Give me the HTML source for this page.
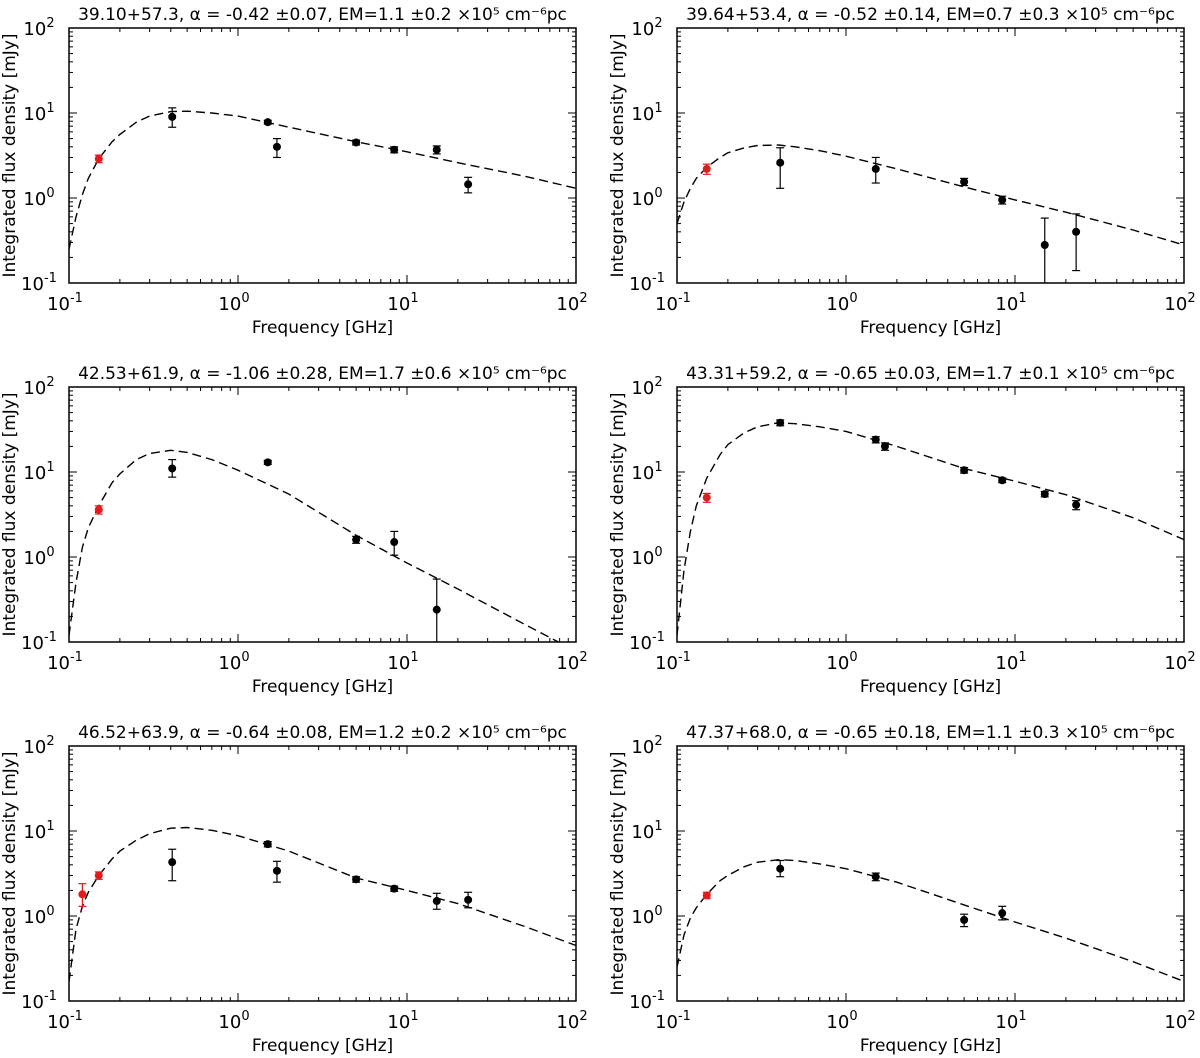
<!DOCTYPE html>
<html><head><meta charset="utf-8"><style>
html,body{margin:0;padding:0;background:#fff;}
svg{display:block;font-family:"DejaVu Sans","Liberation Sans",sans-serif;}
</style></head><body>
<svg id="fig" width="1200" height="1058" viewBox="0 0 1200 1058" xmlns="http://www.w3.org/2000/svg"></svg>
<script>
// ---- data ----
const curveFreq = [0.1,0.11,0.12,0.13,0.15,0.18,0.2,0.25,0.3,0.4,0.5,0.7,1,2,5,10,20,50,100];
const titles = [
 "39.10+57.3, \u03b1 = -0.42 \u00b10.07, EM=1.1 \u00b10.2 \u00d710\u2075 cm\u207b\u2076pc",
 "39.64+53.4, \u03b1 = -0.52 \u00b10.14, EM=0.7 \u00b10.3 \u00d710\u2075 cm\u207b\u2076pc",
 "42.53+61.9, \u03b1 = -1.06 \u00b10.28, EM=1.7 \u00b10.6 \u00d710\u2075 cm\u207b\u2076pc",
 "43.31+59.2, \u03b1 = -0.65 \u00b10.03, EM=1.7 \u00b10.1 \u00d710\u2075 cm\u207b\u2076pc",
 "46.52+63.9, \u03b1 = -0.64 \u00b10.08, EM=1.2 \u00b10.2 \u00d710\u2075 cm\u207b\u2076pc",
 "47.37+68.0, \u03b1 = -0.65 \u00b10.18, EM=1.1 \u00b10.3 \u00d710\u2075 cm\u207b\u2076pc"
];
const curve1 = [0.25,0.6,1.1,1.7,2.9,4.6,5.6,7.8,9.2,10.4,10.5,10.0,9.2,6.8,4.6,3.5,2.6,1.8,1.3];
const curve2 = [0.5,0.9,1.3,1.7,2.3,3.0,3.4,3.9,4.15,4.2,4.0,3.6,3.1,2.2,1.35,0.95,0.68,0.42,0.28];
const curve3 = [0.12,0.5,1.3,2.2,4.0,7.5,9.5,14,16.5,18,17,14,10.5,5.5,1.8,0.85,0.42,0.16,0.078];
const curve4 = [0.12,0.7,2,4,8.5,16,21,29,34,38,37,34,30,20,11,7.8,5.4,2.9,1.6];
const curve5 = [0.17,0.7,1.3,1.9,3.0,4.7,5.8,7.8,9.3,10.8,11,10.2,8.8,5.8,2.8,2.0,1.4,0.75,0.45];
const curve6 = [0.25,0.6,0.95,1.25,1.8,2.6,3.0,3.8,4.3,4.6,4.5,4.1,3.6,2.5,1.35,0.85,0.55,0.29,0.17];
const pts1F=[0.15,0.408,1.5,1.7,5,8.4,15,23];
const pts1V=[2.9,9,7.8,4.0,4.5,3.7,3.7,1.45];
const pts1L=[2.6,6.8,7.4,3.0,4.2,3.4,3.3,1.15];
const pts1H=[3.2,11.5,8.2,5.0,4.8,4.0,4.1,1.75];
const pts1R=[1,0,0,0,0,0,0,0];
const pts2F=[0.15,0.408,1.5,5,8.4,15,23];
const pts2V=[2.2,2.6,2.2,1.55,0.95,0.28,0.4];
const pts2L=[1.9,1.3,1.5,1.4,0.85,0.1,0.14];
const pts2H=[2.5,3.9,3.0,1.7,1.05,0.58,0.65];
const pts2R=[1,0,0,0,0,0,0];
const pts3F=[0.15,0.408,1.5,5,8.4,15];
const pts3V=[3.6,11,13,1.6,1.5,0.24];
const pts3L=[3.2,8.7,12.3,1.45,1.05,0.1];
const pts3H=[4.0,14,13.7,1.75,2.0,0.55];
const pts3R=[1,0,0,0,0,0];
const pts4F=[0.15,0.408,1.5,1.7,5,8.4,15,23];
const pts4V=[5,38,24,20,10.5,8,5.5,4.1];
const pts4L=[4.4,35,22,18,9.7,7.5,5.1,3.6];
const pts4H=[5.6,41,26,22,11.3,8.5,5.9,4.6];
const pts4R=[1,0,0,0,0,0,0,0];
const pts5F=[0.12,0.15,0.408,1.5,1.7,5,8.4,15,23];
const pts5V=[1.8,3.0,4.3,7,3.4,2.7,2.1,1.5,1.55];
const pts5L=[1.3,2.7,2.6,6.5,2.5,2.5,1.95,1.2,1.25];
const pts5H=[2.4,3.3,6.1,7.5,4.4,2.9,2.25,1.85,1.9];
const pts5R=[1,1,0,0,0,0,0,0,0];
const pts6F=[0.15,0.408,1.5,5,8.4];
const pts6V=[1.75,3.6,2.9,0.9,1.08];
const pts6L=[1.6,2.9,2.6,0.75,0.9];
const pts6H=[1.9,4.5,3.2,1.05,1.3];
const pts6R=[1,0,0,0,0];
const xTickExp=[-1,0,1,2];
const yTickExp=[-1,0,1,2];

const curves=[curve1,curve2,curve3,curve4,curve5,curve6];
const ptsF=[pts1F,pts2F,pts3F,pts4F,pts5F,pts6F];
const ptsV=[pts1V,pts2V,pts3V,pts4V,pts5V,pts6V];
const ptsL=[pts1L,pts2L,pts3L,pts4L,pts5L,pts6L];
const ptsH=[pts1H,pts2H,pts3H,pts4H,pts5H,pts6H];
const ptsR=[pts1R,pts2R,pts3R,pts4R,pts5R,pts6R];

const NS="http://www.w3.org/2000/svg";
const svg=document.getElementById('fig');
function mk(tag,attrs,parent){const e=document.createElementNS(NS,tag);for(const k in attrs)e.setAttribute(k,attrs[k]);(parent||svg).appendChild(e);return e;}

const W=507,H=255;
for(let p=0;p<6;p++){
  const x0 = (p%2===0)?69:677;
  const y0 = 28 + Math.floor(p/2)*359;
  const g=mk('g',{});
  
  
  const xs=f=>x0+(Math.log10(f)+1)/3*W;
  const ys=v=>y0+H-(Math.log10(v)+1)/3*H;
  const cid='clip'+p;
  const cp=mk('clipPath',{id:cid},g);mk('rect',{x:x0,y:y0,width:W,height:H},cp);
  const d=curveFreq.map((f,i)=>(i?'L':'M')+xs(f).toFixed(1)+','+ys(curves[p][i]).toFixed(1)).join(' ');
  const path=mk('path',{d:d,fill:'none',stroke:'#000','stroke-width':1.4,'stroke-dasharray':'9,5','clip-path':'url(#'+cid+')'},g);
  
  
  for(let i=0;i<ptsF[p].length;i++){
    const col=ptsR[p][i]?'#e41a1c':'#000';
    const cx=xs(ptsF[p][i]);
    const lo=Math.max(ptsL[p][i],0.1);
    const eb=mk('g',{'clip-path':'url(#'+cid+')'},g);
    
    
    mk('line',{x1:cx,x2:cx,y1:ys(lo),y2:ys(ptsH[p][i]),stroke:col,'stroke-width':1.2},eb);
    mk('line',{x1:cx-4,x2:cx+4,y1:ys(lo),y2:ys(lo),stroke:col,'stroke-width':1.2},eb);
    mk('line',{x1:cx-4,x2:cx+4,y1:ys(ptsH[p][i]),y2:ys(ptsH[p][i]),stroke:col,'stroke-width':1.2},eb);
    mk('circle',{cx:cx,cy:ys(ptsV[p][i]),r:4,fill:col},eb);
  }
  for(let e=-1;e<=2;e++){
    for(let m=1;m<10;m++){
      if(e===2&&m>1)break;
      const v=m*Math.pow(10,e);
      const len=m===1?8:4;
      const X=xs(v),Y=ys(v);
      mk('line',{x1:X,x2:X,y1:y0+H,y2:y0+H-len,stroke:'#000','stroke-width':1},g);
      mk('line',{x1:X,x2:X,y1:y0,y2:y0+len,stroke:'#000','stroke-width':1},g);
      mk('line',{x1:x0,x2:x0+len,y1:Y,y2:Y,stroke:'#000','stroke-width':1},g);
      mk('line',{x1:x0+W,x2:x0+W-len,y1:Y,y2:Y,stroke:'#000','stroke-width':1},g);
    }
  }
  const frame=mk('rect',{x:x0,y:y0,width:W,height:H,fill:'none',stroke:'#000','stroke-width':1.5},g);
  
  
  xTickExp.forEach(e=>{
    const t=mk('text',{x:xs(Math.pow(10,e))-4,y:y0+H+27,'font-size':18,'text-anchor':'middle'},g);
    
    
    t.textContent='10';
    const s=mk('tspan',{dy:-8,'font-size':13},t);s.textContent=String(e);
  });
  yTickExp.forEach(e=>{
    const t=mk('text',{x:x0-30,y:ys(Math.pow(10,e))+7,'font-size':18,'text-anchor':'middle'},g);
    
    
    t.textContent='10';
    const s=mk('tspan',{dy:-8,'font-size':13},t);s.textContent=String(e);
  });
  const xl=mk('text',{x:x0+W/2,y:y0+H+50,'font-size':17,'text-anchor':'middle'},g);
  
  
  xl.textContent='Frequency [GHz]';
  const yl=mk('text',{x:0,y:0,'font-size':17,'text-anchor':'middle',transform:'translate('+(x0-54)+','+(y0+H/2)+') rotate(-90)'},g);
  
  
  yl.textContent='Integrated flux density [mJy]';
  const tt=mk('text',{x:x0+W/2,y:y0-8,'font-size':17,'text-anchor':'middle'},g);
  
  
  tt.textContent=titles[p];
}
</script>
</body></html>
